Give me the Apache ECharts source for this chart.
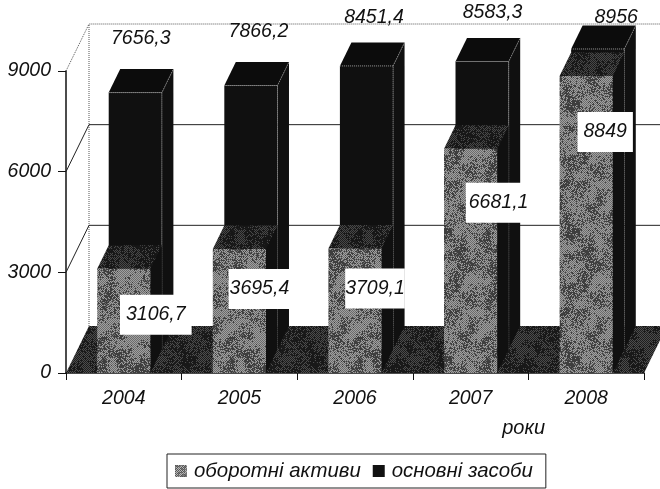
<!DOCTYPE html>
<html><head><meta charset="utf-8">
<style>html,body{margin:0;padding:0;background:#fff}#c{width:660px;height:489px}</style>
<script src="https://cdn.jsdelivr.net/npm/echarts@6/dist/echarts.min.js"></script>
</head><body><div id="c"></div>
<script>
const years = ['2004','2005','2006','2007','2008'];
const currentAssets = [3106.7,3695.4,3709.1,6681.1,8849];
const fixedAssets = [7656.3,7866.2,8451.4,8583.3,8956];
const currentLabels = ['3106,7','3695,4','3709,1','6681,1','8849'];
const fixedLabels = ['7656,3','7866,2','8451,4','8583,3','8956'];
const yTicks = [0,3000,6000,9000];

// layout of the oblique projection (pixels)
const DX = 11.5, DY = 23.5, BAR = 0.46;
const fixedLabelShift = [[17,-31],[19,-30],[19,-25],[22,-25],[30,-8]];
const currentLabelShift = [[32,46],[20,40],[20,40],[28,54],[19,56]];
const currentLabelPad = [6,1,0,3,6];
const FONT = 'italic 19.5px "Liberation Sans", Arial, sans-serif';

// stippled print texture: fixed LCG sequence, only used for the fill image
function tile(light, dark, blot) {
  const n = 128, cells = 16, size = n / cells;
  const cv = document.createElement('canvas'); cv.width = cv.height = n;
  const g = cv.getContext('2d');
  let seed = 12345;
  const next = () => (seed = (seed * 1103515245 + 12345) & 0x7fffffff) / 0x7fffffff;
  const grid = [];
  for (let i = 0; i < cells * cells; i++) grid.push(next());
  const at = (cx, cy) => grid[((cy + cells) % cells) * cells + ((cx + cells) % cells)];
  const smooth = (x, y) => {
    const fx = x / size, fy = y / size, cx = Math.floor(fx), cy = Math.floor(fy), tx = fx - cx, ty = fy - cy;
    return (at(cx, cy) * (1 - tx) + at(cx + 1, cy) * tx) * (1 - ty) +
           (at(cx, cy + 1) * (1 - tx) + at(cx + 1, cy + 1) * tx) * ty;
  };
  for (let y = 0; y < n; y++) for (let x = 0; x < n; x++) {
    const m = smooth(x, y), r = next();
    let c = ((x + y) % 2 === 0) ? dark : light;
    if (r < (m - 0.2) * 1.1) c = blot;
    g.fillStyle = c; g.fillRect(x, y, 1, 1);
  }
  return { image: cv, repeat: 'repeat' };
}
const faceFill = tile('#a0a0a0', '#6c6c6c', '#3e3e3e');
const topFill = tile('#484848', '#1e1e1e', '#161616');
const floorFill = tile('#4c4c4c', '#1e1e1e', '#181818');
const legendFill = tile('#b8b8b8', '#555555', '#777777');

function poly(points, fill, z2) {
  return { type: 'polygon', shape: { points }, style: { fill, stroke: null }, z2: z2 || 0 };
}
function edge(points, color, dash) {
  return { type: 'polyline', shape: { points }, style: { fill: null, stroke: color, lineWidth: 1, lineDash: dash || null }, z2: 5 };
}
function box(api, row, face, top, dotted) {
  const i = api.value(0), v = api.value(1);
  const base = api.coord([i, 0]), head = api.coord([i, v]);
  const w = api.size([1, 0])[0] * BAR;
  const x0 = base[0] - w / 2 + row * DX, x1 = x0 + w;
  const yb = base[1] - row * DY, yt = head[1] - row * DY;
  const kids = [
    poly([[x1, yt], [x1 + DX, yt - DY], [x1 + DX, yb - DY], [x1, yb]], '#101010'),
    poly([[x0, yt], [x0 + DX, yt - DY], [x1 + DX, yt - DY], [x1, yt]], top),
    poly([[x0, yt], [x1, yt], [x1, yb], [x0, yb]], face)
  ];
  if (dotted) kids.push(
    edge([[x0, yt], [x1, yt], [x1, yb]], '#9a9a9a', [1, 1]),
    edge([[x1, yt], [x1 + DX, yt - DY]], '#8a8a8a', [1, 1])
  );
  return { type: 'group', children: kids };
}

const axisFont = { fontStyle: 'italic', fontSize: 19.5, fontFamily: 'Liberation Sans', color: '#111' };
const chart = echarts.init(document.getElementById('c'), null, { renderer: 'canvas' });
chart.setOption({
  animation: false,
  backgroundColor: '#fff',
  grid: { left: 66, right: 16, top: 71, bottom: 116 },
  xAxis: {
    type: 'category', data: years,
    name: 'роки', nameLocation: 'end', nameGap: -99,
    nameTextStyle: { fontStyle: 'italic', fontSize: 20, fontFamily: 'Liberation Sans', color: '#111', align: 'right', verticalAlign: 'top', padding: [45, 0, 0, 0] },
    axisLine: { lineStyle: { color: '#111', width: 1.5 } },
    axisTick: { show: true, length: 7, lineStyle: { color: '#111' } },
    axisLabel: Object.assign({ margin: 16 }, axisFont),
    splitLine: { show: false }
  },
  yAxis: {
    type: 'value', min: 0, max: 9000, interval: 3000,
    axisLine: { show: true, lineStyle: { color: '#111', width: 1.5 } },
    axisTick: { show: true, length: 8, lineStyle: { color: '#111' } },
    axisLabel: Object.assign({ margin: 15, formatter: (v) => String(v) }, axisFont),
    splitLine: { show: false }
  },
  legend: {
    left: 167, top: 454, orient: 'horizontal', padding: [7, 13, 7, 8], itemGap: 12,
    itemWidth: 12, itemHeight: 12, borderColor: '#222', borderWidth: 1, backgroundColor: '#fff',
    textStyle: { fontStyle: 'italic', fontSize: 20.4, fontFamily: 'Liberation Sans', color: '#111', padding: [0, 0, 0, 2] },
    data: [
      { name: 'оборотні активи', icon: 'rect', itemStyle: { color: legendFill } },
      { name: 'основні засоби', icon: 'rect', itemStyle: { color: '#111' } }
    ]
  },
  series: [
    {
      type: 'custom', silent: true, z: 1, coordinateSystem: 'cartesian2d',
      data: yTicks.map((t) => [0, t]),
      renderItem(params, api) {
        const cs = params.coordSys, v = api.value(1);
        const y = api.coord([0, v])[1], xl = cs.x, xr = cs.x + cs.width;
        const wx = 2 * DX, wy = 2 * DY;
        const kids = [];
        if (v === 0) {
          kids.push(poly([[xl, y], [xl + wx, y - wy], [xr + wx, y - wy], [xr, y]], floorFill));
          kids.push(edge([[xl + wx, y - wy], [xl + wx, cs.y - wy]], '#555', [1, 1]));
        } else {
          const dash = v === 9000 ? [1, 1] : null, col = v === 9000 ? '#555' : '#222';
          kids.push(edge([[xl, y], [xl + wx, y - wy], [xr + wx, y - wy]], col, dash));
        }
        return { type: 'group', children: kids };
      }
    },
    {
      name: 'основні засоби', type: 'custom', z: 2, itemStyle: { color: '#111' },
      data: fixedAssets.map((v, i) => [i, v]),
      renderItem(params, api) { return box(api, 1, '#101010', '#0c0c0c', true); }
    },
    {
      name: 'оборотні активи', type: 'custom', z: 3, itemStyle: { color: '#888' },
      data: currentAssets.map((v, i) => [i, v]),
      renderItem(params, api) { return box(api, 0, faceFill, topFill, false); }
    },
    {
      type: 'custom', silent: true, z: 4,
      data: fixedAssets.map((v, i) => [i, v]),
      renderItem(params, api) {
        const i = api.value(0), p = api.coord([i, api.value(1)]), s = fixedLabelShift[i];
        return { type: 'text', x: p[0] + s[0], y: p[1] - 2 * DY + s[1],
          style: { text: fixedLabels[i], font: FONT, fill: '#111', align: 'center', verticalAlign: 'middle' } };
      }
    },
    {
      type: 'custom', silent: true, z: 5,
      data: currentAssets.map((v, i) => [i, v]),
      renderItem(params, api) {
        const i = api.value(0), p = api.coord([i, api.value(1)]), s = currentLabelShift[i], pad = currentLabelPad[i];
        return { type: 'text', x: p[0] + s[0], y: p[1] + s[1],
          style: { text: currentLabels[i], font: FONT, fill: '#111', align: 'center', verticalAlign: 'middle',
            backgroundColor: '#fff', padding: [10, pad, 10, pad] } };
      }
    }
  ]
});
</script></body></html>
